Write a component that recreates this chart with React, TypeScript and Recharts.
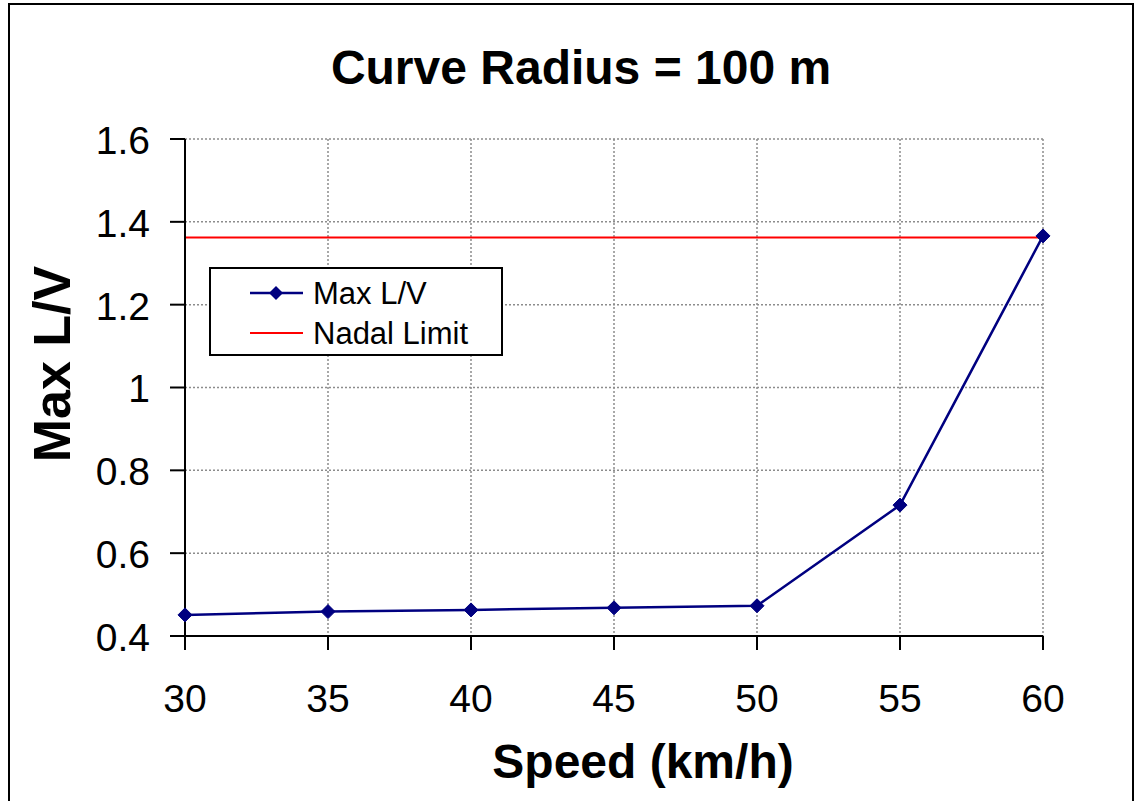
import React from 'react';
import { LineChart, Line, XAxis, YAxis, CartesianGrid } from 'recharts';

// speeds on the x axis (km/h)
const speeds = [30, 35, 40, 45, 50, 55, 60];
// worst L/V ratio per speed for a 100 m curve
const maxLV = [0.451, 0.459, 0.463, 0.468, 0.473, 0.716, 1.366];
// Nadal flange-climb limit, flat across the speed range
const nadalLimit = [1.362, 1.362, 1.362, 1.362, 1.362, 1.362, 1.362];
const yTicks = [0.4, 0.6, 0.8, 1, 1.2, 1.4, 1.6];

const data = speeds.map((s, i) => ({ speed: s, maxLV: maxLV[i], nadal: nadalLimit[i] }));

const FONT = '"Liberation Sans", Arial, sans-serif';
const NAVY = '#000080';
const RED = '#ff0000';

const Diamond = (props: any) => {
    const { cx, cy } = props;
    if (cx == null || cy == null) return null;
    const r = 7;
    return <polygon points={`${cx},${cy - r} ${cx + r},${cy} ${cx},${cy + r} ${cx - r},${cy}`} fill={NAVY} stroke={NAVY} />;
};

export default function App() {
    return (
        <div style={{ position: 'absolute', left: 0, top: 0, width: 1136, height: 801, overflow: 'hidden', background: '#fff', fontFamily: FONT }}>
            {/* outer chart frame, open at the bottom */}
            <div style={{ position: 'absolute', left: 8, top: 3, width: 1122, height: 900, border: '2px solid #000' }} />
            <div style={{ position: 'absolute', left: 0, top: 0 }}>
                <LineChart width={1136} height={801} data={data} margin={{ top: 139, right: 93, bottom: 0, left: 0 }}>
                    <CartesianGrid stroke="#8c8c8c" strokeWidth={1.5} strokeDasharray="2 2" />
                    <XAxis
                        dataKey="speed"
                        type="number"
                        domain={[30, 60]}
                        ticks={speeds}
                        height={165}
                        stroke="#000"
                        strokeWidth={2}
                        tickSize={14}
                        tickMargin={34}
                        tick={{ fill: '#000', fontSize: 39, fontFamily: FONT }}
                    />
                    <YAxis
                        type="number"
                        domain={[0.4, 1.6]}
                        ticks={yTicks}
                        width={185}
                        stroke="#000"
                        strokeWidth={2}
                        tickSize={15}
                        tickMargin={20}
                        tick={{ fill: '#000', fontSize: 39, fontFamily: FONT, dy: 1 }}
                    />
                    <Line dataKey="nadal" name="Nadal Limit" stroke={RED} strokeWidth={2} dot={false} isAnimationActive={false} />
                    <Line dataKey="maxLV" name="Max L/V" stroke={NAVY} strokeWidth={2.5} dot={<Diamond />} isAnimationActive={false} />
                </LineChart>
            </div>
            <svg width={1136} height={801} style={{ position: 'absolute', left: 0, top: 0, pointerEvents: 'none' }}>
                <text x={581} y={84} textAnchor="middle" fontSize={48} fontWeight="bold" fontFamily={FONT}>Curve Radius = 100 m</text>
                <text x={643} y={778} textAnchor="middle" fontSize={48} fontWeight="bold" fontFamily={FONT}>Speed (km/h)</text>
                <text transform="translate(70,364) rotate(-90)" textAnchor="middle" fontSize={52} fontWeight="bold" fontFamily={FONT}>Max L/V</text>
                {/* legend */}
                <rect x={210} y={268} width={292} height={87} fill="#fff" stroke="#000" strokeWidth={2} />
                <line x1={250} y1={293} x2={303} y2={293} stroke={NAVY} strokeWidth={2.5} />
                <polygon points="276,286 283,293 276,300 269,293" fill={NAVY} />
                <text x={313} y={304} fontSize={31} fontFamily={FONT}>Max L/V</text>
                <line x1={250} y1={333} x2={303} y2={333} stroke={RED} strokeWidth={2} />
                <text x={313} y={344} fontSize={31} fontFamily={FONT}>Nadal Limit</text>
            </svg>
        </div>
    );
}
